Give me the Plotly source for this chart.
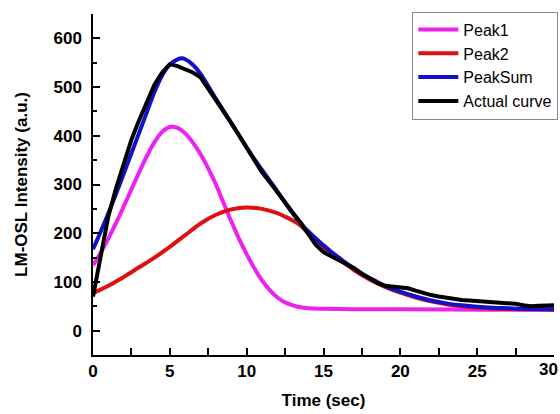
import plotly.graph_objects as go

# Peak1 (magenta)
t_p1 = [0, 0.5, 1, 1.5, 2, 2.5, 3, 3.5, 4, 4.5, 5, 5.5, 6, 6.5, 7, 7.5, 8, 8.5, 9, 9.5,
        10, 10.5, 11, 11.5, 12, 12.5, 13, 13.5, 14, 15, 17, 20, 25, 30]
v_p1 = [134, 160, 189, 221, 255, 290, 325, 358, 387, 408, 418, 416, 405, 386, 362, 333,
        300, 262, 224, 189, 157, 128, 103, 83, 68, 58, 52, 48, 46, 45, 44, 44, 43, 43]

# Peak2 (red)
t_p2 = [0, 1, 2, 3, 4, 5, 6, 7, 8, 9, 10, 11, 12, 12.5, 13, 13.5, 14, 14.5, 15, 15.5, 16,
        17, 18, 19, 20, 21, 22, 23, 24, 25, 26, 28, 30]
v_p2 = [77, 92, 110, 130, 150, 172, 196, 220, 238, 249, 253, 250, 241, 234, 226, 216, 200,
        185, 171, 158, 147, 124, 105, 90, 78, 68, 60, 54, 50, 47, 45, 44, 43]

# PeakSum (blue)
t_sum = [0, 0.5, 1, 1.5, 2, 2.5, 3, 3.5, 4, 4.5, 5, 5.5, 5.8, 6, 6.5, 7, 7.5, 8, 8.5, 9,
         9.5, 10, 10.5, 11, 11.5, 12, 12.5, 13, 13.5, 14, 14.5, 15, 15.5, 16, 16.5, 17,
         17.5, 18, 18.5, 19, 20, 21, 22, 23, 24, 25, 26, 27, 28, 30]
v_sum = [167, 203, 241, 281, 322, 364, 406, 448, 490, 524, 546, 557, 559, 557, 546, 527,
         502, 476, 451, 426, 401, 376, 352, 330, 308, 286, 263, 241, 221, 204, 189, 175,
         162, 150, 138, 127, 117, 108, 100, 92, 80, 70, 62, 56, 52, 49, 47, 46, 45, 44]

# Actual curve (black)
t_act = [0, 0.25, 0.5, 1, 1.5, 1.75, 2, 2.5, 3, 3.5, 4, 4.5, 4.8, 5, 5.5, 6, 6.5, 7, 7.5,
         8, 8.5, 9, 9.5, 10, 10.5, 11, 11.5, 12, 12.5, 13, 13.5, 14, 14.5, 15, 15.5, 16,
         16.5, 17, 17.5, 18, 18.5, 19, 19.5, 20, 20.5, 21, 21.5, 22, 22.5, 23, 23.5, 24,
         24.5, 25, 25.5, 26, 26.5, 27, 27.5, 28, 28.5, 29, 29.5, 30]
v_act = [70, 110, 160, 235, 292, 318, 345, 392, 432, 470, 505, 530, 542, 547, 543, 537,
         530, 520, 497, 474, 451, 426, 401, 376, 352, 325, 305, 283, 263, 242, 222, 198,
         176, 161, 153, 145, 137, 128, 117, 107, 98, 92, 90, 90, 87, 82, 77, 73, 70, 67,
         64, 63, 62, 61, 60, 59, 58, 57, 55, 52, 50, 51, 52, 52]

x_ticks = [0, 5, 10, 15, 20, 25, 30]
y_ticks = [0, 100, 200, 300, 400, 500, 600]

FONT = "Liberation Sans, Arial, sans-serif"

fig = go.Figure()
fig.add_trace(go.Scatter(x=t_p1, y=v_p1, mode="lines", name="Peak1",
                         line=dict(color="#ee22ee", width=4, shape="spline")))
fig.add_trace(go.Scatter(x=t_p2, y=v_p2, mode="lines", name="Peak2",
                         line=dict(color="#dd1111", width=4, shape="spline")))
fig.add_trace(go.Scatter(x=t_sum, y=v_sum, mode="lines", name="PeakSum",
                         line=dict(color="#1111cc", width=4, shape="spline")))
fig.add_trace(go.Scatter(x=t_act, y=v_act, mode="lines", name="Actual curve",
                         line=dict(color="#000000", width=4)))

# last tick label sits at the page edge; keep it fully inside the page
fig.add_annotation(x=x_ticks[-1], xref="x", y=0, yref="paper", yanchor="top",
                   xanchor="right", xshift=6, yshift=-3, text=str(x_ticks[-1]),
                   showarrow=False, font=dict(size=17, family=FONT, weight="bold"))

fig.update_layout(
    width=560, height=414,
    margin=dict(l=93, r=6, t=14, b=59, autoexpand=False),
    paper_bgcolor="white", plot_bgcolor="white",
    font=dict(family=FONT, color="black"),
    showlegend=True,
    legend=dict(xref="container", yref="container", x=0.997, xanchor="right",
                y=0.972, yanchor="top",
                bordercolor="#888888", borderwidth=1, bgcolor="white",
                font=dict(size=16, family=FONT), tracegroupgap=0,
                itemwidth=40, entrywidth=112, entrywidthmode="pixels"),
    xaxis=dict(range=[0, 30], tickvals=x_ticks[:-1], ticks="inside", ticklen=7,
               tickwidth=2, tickcolor="black", showline=True, linecolor="black",
               linewidth=1.5, showgrid=False, zeroline=False,
               tickfont=dict(size=17, family=FONT, weight="bold"),
               ticklabelstandoff=0,
               minor=dict(tickvals=[2.5, 7.5, 12.5, 17.5, 22.5, 27.5, 30], ticks="inside",
                          ticklen=7, tickwidth=2, tickcolor="black", showgrid=False),
               title=dict(text="Time (sec)", font=dict(size=17, family=FONT, weight="bold"),
                          standoff=14)),
    yaxis=dict(range=[-50, 650], tickvals=y_ticks, ticks="inside", ticklen=7,
               tickwidth=2, tickcolor="black", showline=True, linecolor="black",
               linewidth=1.5, showgrid=False, zeroline=False,
               tickfont=dict(size=17, family=FONT, weight="bold"),
               ticklabelstandoff=6,
               minor=dict(dtick=50, ticks="inside", ticklen=4, tickwidth=1.5,
                          tickcolor="black", showgrid=False),
               title=dict(text="LM-OSL Intensity (a.u.)",
                          font=dict(size=17, family=FONT, weight="bold"), standoff=22)),
)

fig.write_html("out.html")
